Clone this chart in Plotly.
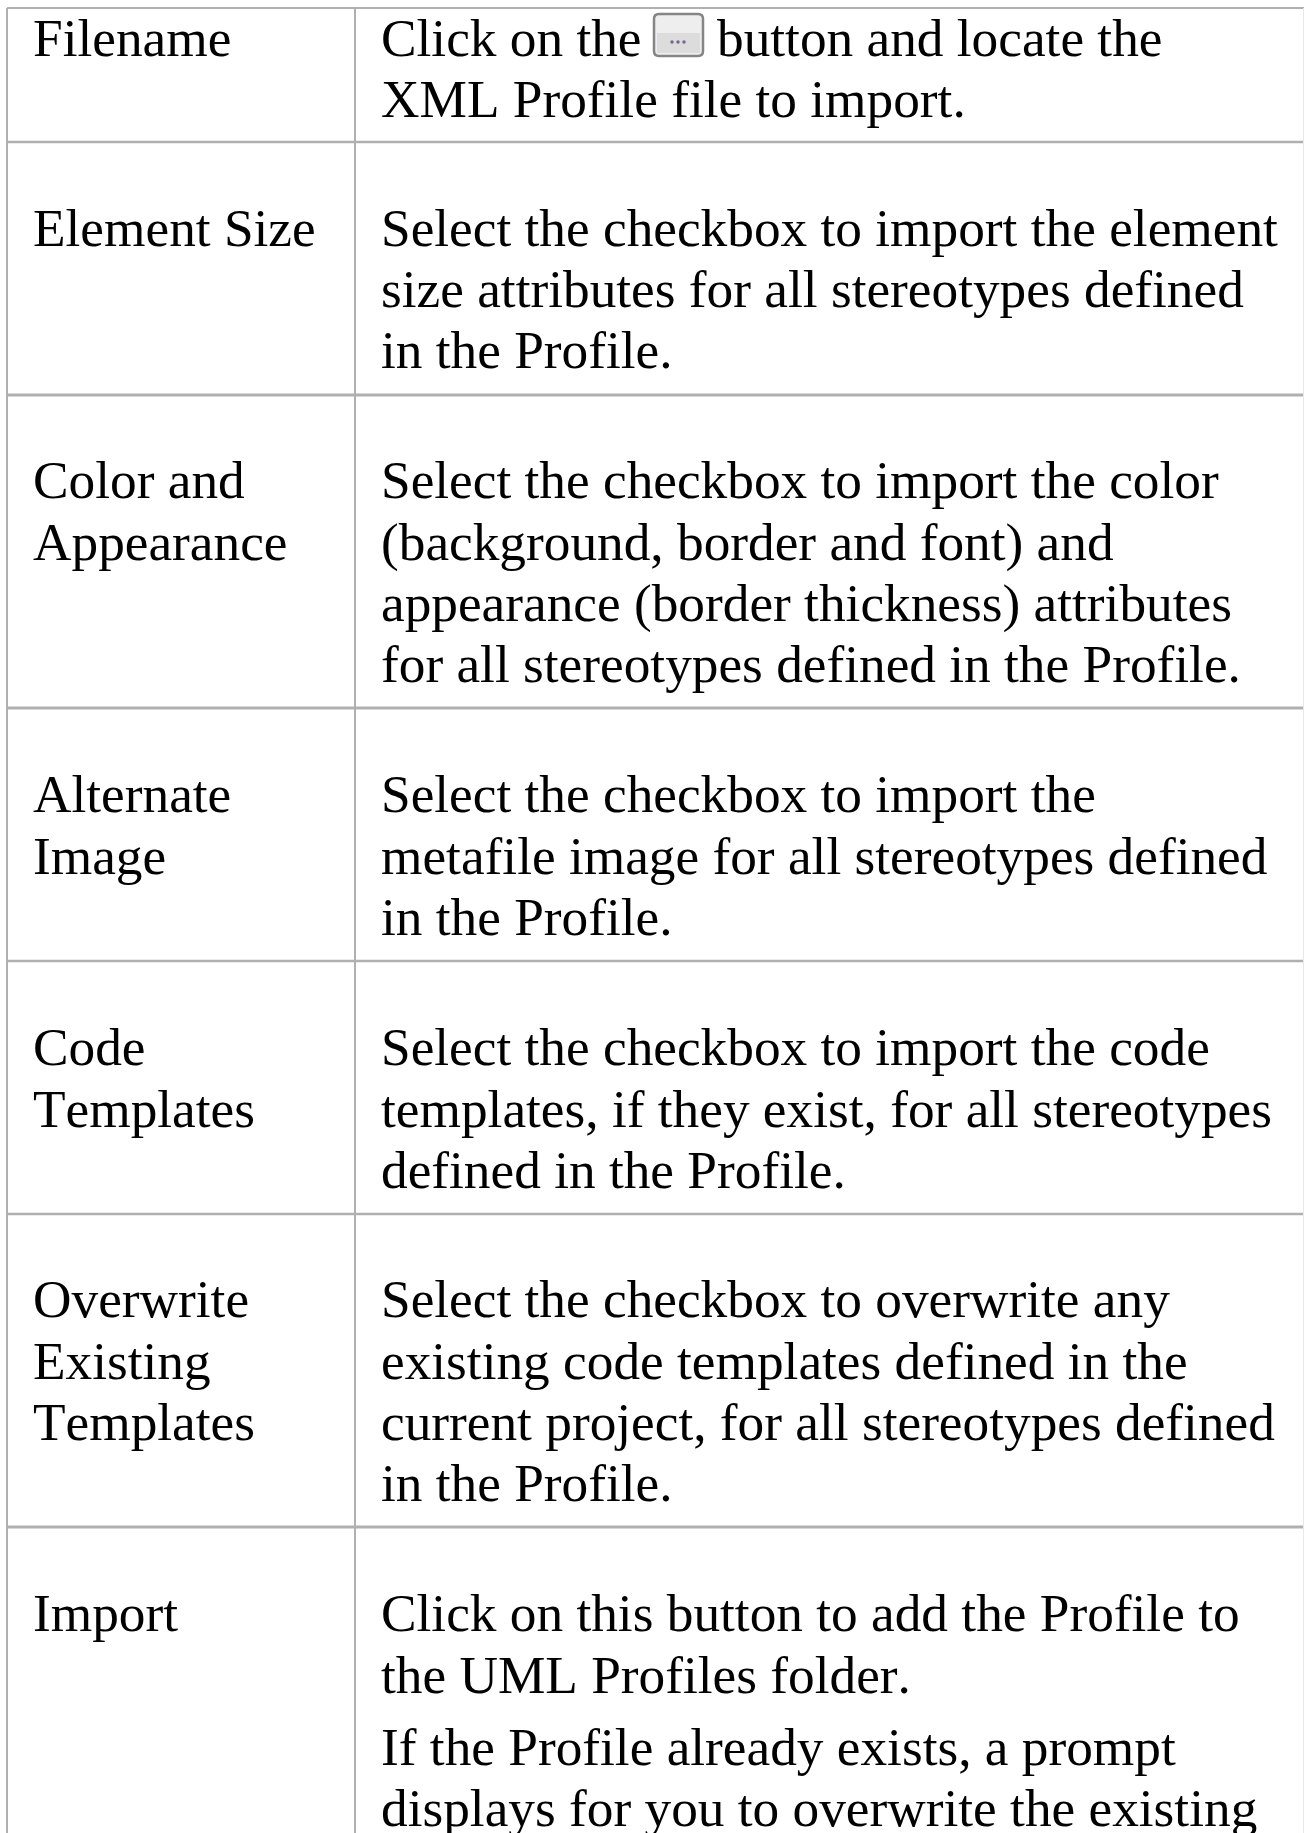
import plotly.graph_objects as go

FONT = "Liberation Serif"
SIZE = 53.3
W, H = 1304, 1833

row_lines_y = [8, 142, 395, 708, 961, 1214, 1527]
row_lines_w = [2, 2.5, 3, 3, 2.5, 2.5, 3]
column_lines_x = [7, 355]

label_text = ["Filename", "Element Size", "Color and", "Appearance", "Alternate", "Image",
              "Code", "Templates", "Overwrite", "Existing", "Templates", "Import"]
label_y = [42.5, 233, 485, 547, 799, 861, 1052, 1113.5, 1304, 1366, 1427, 1618]

desc_text = ["Click on the", "button and locate the", "XML Profile file to import.",
             "Select the checkbox to import the element", "size attributes for all stereotypes defined", "in the Profile.",
             "Select the checkbox to import the color", "(background, border and font) and",
             "appearance (border thickness) attributes", "for all stereotypes defined in the Profile.",
             "Select the checkbox to import the", "metafile image for all stereotypes defined", "in the Profile.",
             "Select the checkbox to import the code", "templates, if they exist, for all stereotypes", "defined in the Profile.",
             "Select the checkbox to overwrite any", "existing code templates defined in the",
             "current project, for all stereotypes defined", "in the Profile.",
             "Click on this button to add the Profile to", "the UML Profiles folder.",
             "If the Profile already exists, a prompt", "displays for you to overwrite the existing"]
desc_x = [381, 717] + [381] * 22
desc_y = [42.5, 42.5, 104, 233, 294, 355, 485, 547, 608, 669, 799, 861, 922, 1052, 1113.5, 1175,
          1304, 1366, 1427, 1488, 1618, 1680, 1752, 1813]

button_dots_x = [672, 678, 684]
button_dots_y = [42, 42, 42]

fig = go.Figure()
fig.add_trace(go.Scatter(x=[33] * len(label_text), y=label_y, text=label_text, mode="text",
                         textposition="middle right", hoverinfo="skip",
                         textfont=dict(family=FONT, size=SIZE, color="#000")))
fig.add_trace(go.Scatter(x=desc_x, y=desc_y, text=desc_text, mode="text",
                         textposition="middle right", hoverinfo="skip",
                         textfont=dict(family=FONT, size=SIZE, color="#000")))
fig.add_trace(go.Scatter(x=button_dots_x, y=button_dots_y, mode="markers", hoverinfo="skip",
                         marker=dict(size=3.5, color="#75688f", line=dict(width=0))))

for y, w in zip(row_lines_y, row_lines_w):
    fig.add_shape(type="line", x0=7, x1=W, y0=y, y1=y, line=dict(color="#b0b0b0", width=w), layer="below")
for x in column_lines_x:
    fig.add_shape(type="line", x0=x, x1=x, y0=8, y1=H, line=dict(color="#b0b0b0", width=2), layer="below")
fig.add_shape(type="line", x0=1303.5, x1=1303.5, y0=8, y1=H, line=dict(color="#e8e8e8", width=1), layer="below")

# rounded button
rounded = ("M 659 14 L 698 14 Q 703 14 703 19 L 703 51 Q 703 56 698 56 "
           "L 659 56 Q 654 56 654 51 L 654 19 Q 654 14 659 14 Z")
fig.add_shape(type="path", path=rounded, line=dict(color="#858585", width=2.5), fillcolor="#eeeeee", layer="below")
fig.add_shape(type="rect", x0=657, x1=700, y0=33, y1=53, line=dict(width=0), fillcolor="#dcdcdc", layer="below")

fig.update_layout(width=W, height=H, margin=dict(l=0, r=0, t=0, b=0), showlegend=False,
                  paper_bgcolor="#ffffff", plot_bgcolor="#ffffff",
                  xaxis=dict(range=[0, W], visible=False, fixedrange=True),
                  yaxis=dict(range=[H, 0], visible=False, fixedrange=True))
fig.write_html("out.html", config={"displayModeBar": False},
               post_script="document.body.style.margin='0';document.documentElement.style.overflow='hidden';"
                           "var s=document.createElement('style');s.textContent='text{font-kerning:none !important}';"
                           "document.head.appendChild(s);")
